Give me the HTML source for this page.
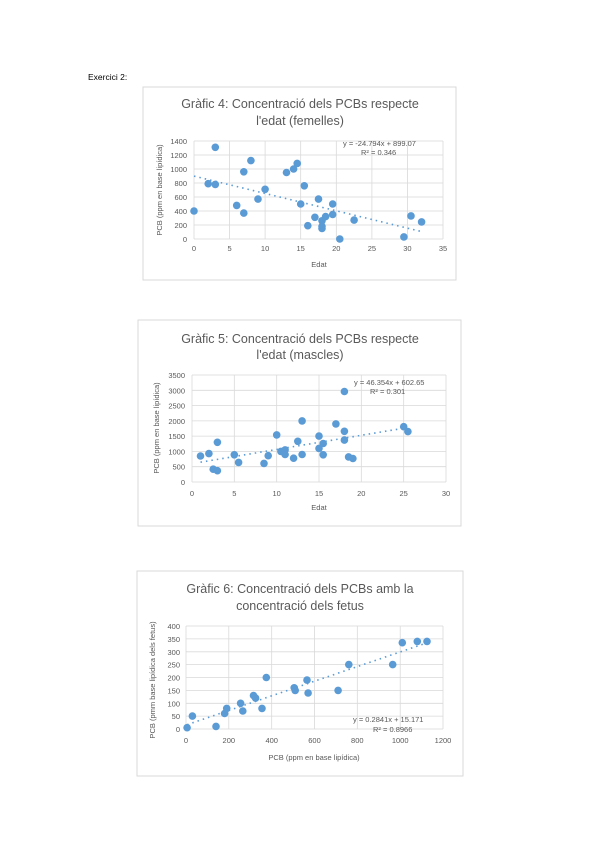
<!DOCTYPE html>
<html><head><meta charset="utf-8"><style>
html,body{margin:0;padding:0;background:#fff}
svg{display:block}
text{font-family:"Liberation Sans",sans-serif;fill:#595959}
.t{font-size:12.5px;text-anchor:middle}
.k{font-size:7.5px}
.ky{font-size:7.5px;text-anchor:end}
.kx{font-size:7.5px;text-anchor:middle}
.ax{font-size:7.5px;text-anchor:middle}
.g{stroke:#d9d9d9;stroke-width:.8}
.tr{stroke:#5b9bd5;stroke-width:1.6;stroke-dasharray:1.5 4;fill:none}
circle{fill:#5b9bd5}
.fr{fill:#fff;stroke:#d9d9d9;stroke-width:1}
</style></head><body>
<svg width="600" height="848" viewBox="0 0 600 848">
<text x="88" y="80" style="font-size:8.5px;fill:#000">Exercici 2:</text>

<!-- Chart 4 -->
<rect class="fr" x="143" y="87" width="313" height="193"/>
<text class="t" x="300" y="108">Gràfic 4: Concentració dels PCBs respecte</text>
<text class="t" x="300" y="125">l'edat (femelles)</text>
<g class="g">
<line x1="194" y1="141" x2="443" y2="141"/><line x1="194" y1="155" x2="443" y2="155"/><line x1="194" y1="169" x2="443" y2="169"/><line x1="194" y1="183" x2="443" y2="183"/><line x1="194" y1="197" x2="443" y2="197"/><line x1="194" y1="211" x2="443" y2="211"/><line x1="194" y1="225" x2="443" y2="225"/><line x1="194" y1="239" x2="443" y2="239"/>
<line x1="194" y1="141" x2="194" y2="239"/><line x1="229.6" y1="141" x2="229.6" y2="239"/><line x1="265.1" y1="141" x2="265.1" y2="239"/><line x1="300.7" y1="141" x2="300.7" y2="239"/><line x1="336.3" y1="141" x2="336.3" y2="239"/><line x1="371.9" y1="141" x2="371.9" y2="239"/><line x1="407.4" y1="141" x2="407.4" y2="239"/><line x1="443" y1="141" x2="443" y2="239"/>
</g>
<g>
<text class="ky" x="187" y="144">1400</text><text class="ky" x="187" y="158">1200</text><text class="ky" x="187" y="172">1000</text><text class="ky" x="187" y="186">800</text><text class="ky" x="187" y="200">600</text><text class="ky" x="187" y="214">400</text><text class="ky" x="187" y="228">200</text><text class="ky" x="187" y="242">0</text>
<text class="kx" x="194" y="251">0</text><text class="kx" x="229.6" y="251">5</text><text class="kx" x="265.1" y="251">10</text><text class="kx" x="300.7" y="251">15</text><text class="kx" x="336.3" y="251">20</text><text class="kx" x="371.9" y="251">25</text><text class="kx" x="407.4" y="251">30</text><text class="kx" x="443" y="251">35</text>
</g>
<text class="ax" x="319" y="267">Edat</text>
<text class="ax" transform="translate(162,190) rotate(-90)">PCB (ppm en base lipídica)</text>
<line class="tr" x1="194" y1="176.1" x2="421.6" y2="231.6"/>
<g>
<circle cx="194" cy="211" r="3.8"/><circle cx="208.2" cy="183.7" r="3.8"/><circle cx="215.3" cy="147.3" r="3.8"/><circle cx="215.3" cy="184.4" r="3.8"/><circle cx="236.7" cy="205.4" r="3.8"/><circle cx="243.8" cy="171.8" r="3.8"/><circle cx="243.8" cy="213.1" r="3.8"/><circle cx="250.9" cy="160.6" r="3.8"/><circle cx="258" cy="199.1" r="3.8"/><circle cx="265.1" cy="189.3" r="3.8"/><circle cx="286.5" cy="172.5" r="3.8"/><circle cx="293.6" cy="169" r="3.8"/><circle cx="297.2" cy="163.4" r="3.8"/><circle cx="300.7" cy="204" r="3.8"/><circle cx="304.3" cy="185.8" r="3.8"/><circle cx="307.8" cy="225.7" r="3.8"/><circle cx="314.9" cy="217.3" r="3.8"/><circle cx="318.5" cy="199.1" r="3.8"/><circle cx="322" cy="220.8" r="3.8"/><circle cx="322" cy="226.4" r="3.8"/><circle cx="322" cy="228.5" r="3.8"/><circle cx="325.6" cy="216.6" r="3.8"/><circle cx="332.7" cy="204" r="3.8"/><circle cx="332.7" cy="214.5" r="3.8"/><circle cx="339.8" cy="239" r="3.8"/><circle cx="354.1" cy="220.1" r="3.8"/><circle cx="403.9" cy="236.9" r="3.8"/><circle cx="411" cy="215.9" r="3.8"/><circle cx="421.6" cy="221.9" r="3.8"/>
</g>
<text class="k" x="343" y="146">y = -24.794x + 899.07</text>
<text class="k" x="361" y="155">R² = 0.346</text>

<!-- Chart 5 -->
<rect class="fr" x="138" y="320" width="323" height="206"/>
<text class="t" x="300" y="343">Gràfic 5: Concentració dels PCBs respecte</text>
<text class="t" x="300" y="359">l'edat (mascles)</text>
<g class="g">
<line x1="192" y1="375" x2="446" y2="375"/><line x1="192" y1="390.3" x2="446" y2="390.3"/><line x1="192" y1="405.6" x2="446" y2="405.6"/><line x1="192" y1="420.9" x2="446" y2="420.9"/><line x1="192" y1="436.1" x2="446" y2="436.1"/><line x1="192" y1="451.4" x2="446" y2="451.4"/><line x1="192" y1="466.7" x2="446" y2="466.7"/><line x1="192" y1="482" x2="446" y2="482"/>
<line x1="192" y1="375" x2="192" y2="482"/><line x1="234.3" y1="375" x2="234.3" y2="482"/><line x1="276.7" y1="375" x2="276.7" y2="482"/><line x1="319" y1="375" x2="319" y2="482"/><line x1="361.3" y1="375" x2="361.3" y2="482"/><line x1="403.7" y1="375" x2="403.7" y2="482"/><line x1="446" y1="375" x2="446" y2="482"/>
</g>
<g>
<text class="ky" x="185" y="378">3500</text><text class="ky" x="185" y="393.3">3000</text><text class="ky" x="185" y="408.6">2500</text><text class="ky" x="185" y="423.9">2000</text><text class="ky" x="185" y="439.1">1500</text><text class="ky" x="185" y="454.4">1000</text><text class="ky" x="185" y="469.7">500</text><text class="ky" x="185" y="485">0</text>
<text class="kx" x="192" y="496">0</text><text class="kx" x="234.3" y="496">5</text><text class="kx" x="276.7" y="496">10</text><text class="kx" x="319" y="496">15</text><text class="kx" x="361.3" y="496">20</text><text class="kx" x="403.7" y="496">25</text><text class="kx" x="446" y="496">30</text>
</g>
<text class="ax" x="319" y="510">Edat</text>
<text class="ax" transform="translate(159,428) rotate(-90)">PCB (ppm en base lipídica)</text>
<line class="tr" x1="200.5" y1="462.2" x2="403.7" y2="428.2"/>
<g>
<circle cx="200.5" cy="456" r="3.8"/><circle cx="208.9" cy="453.6" r="3.8"/><circle cx="213.2" cy="469.2" r="3.8"/><circle cx="217.4" cy="442.3" r="3.8"/><circle cx="217.4" cy="470.7" r="3.8"/><circle cx="234.3" cy="454.8" r="3.8"/><circle cx="238.6" cy="462.4" r="3.8"/><circle cx="264" cy="463.4" r="3.8"/><circle cx="268.2" cy="455.7" r="3.8"/><circle cx="276.7" cy="434.9" r="3.8"/><circle cx="280.9" cy="451.4" r="3.8"/><circle cx="285.1" cy="449.9" r="3.8"/><circle cx="285.1" cy="454.5" r="3.8"/><circle cx="293.6" cy="458.2" r="3.8"/><circle cx="297.8" cy="441.3" r="3.8"/><circle cx="302.1" cy="420.9" r="3.8"/><circle cx="302.1" cy="454.5" r="3.8"/><circle cx="319" cy="436.1" r="3.8"/><circle cx="319" cy="448.4" r="3.8"/><circle cx="323.2" cy="443.5" r="3.8"/><circle cx="323.2" cy="454.8" r="3.8"/><circle cx="335.9" cy="423.9" r="3.8"/><circle cx="344.4" cy="391.5" r="3.8"/><circle cx="344.4" cy="431.3" r="3.8"/><circle cx="344.4" cy="440.1" r="3.8"/><circle cx="348.6" cy="456.9" r="3.8"/><circle cx="352.9" cy="458.5" r="3.8"/><circle cx="403.7" cy="426.7" r="3.8"/><circle cx="407.9" cy="431.6" r="3.8"/>
</g>
<text class="k" x="354" y="385">y = 46.354x + 602.65</text>
<text class="k" x="370" y="394">R² = 0.301</text>

<!-- Chart 6 -->
<rect class="fr" x="137" y="571" width="326" height="205"/>
<text class="t" x="300" y="593">Gràfic 6: Concentració dels PCBs amb la</text>
<text class="t" x="300" y="610">concentració dels fetus</text>
<g class="g">
<line x1="186" y1="626" x2="443" y2="626"/><line x1="186" y1="638.9" x2="443" y2="638.9"/><line x1="186" y1="651.8" x2="443" y2="651.8"/><line x1="186" y1="664.6" x2="443" y2="664.6"/><line x1="186" y1="677.5" x2="443" y2="677.5"/><line x1="186" y1="690.4" x2="443" y2="690.4"/><line x1="186" y1="703.3" x2="443" y2="703.3"/><line x1="186" y1="716.1" x2="443" y2="716.1"/><line x1="186" y1="729" x2="443" y2="729"/>
<line x1="186" y1="626" x2="186" y2="729"/><line x1="228.8" y1="626" x2="228.8" y2="729"/><line x1="271.7" y1="626" x2="271.7" y2="729"/><line x1="314.5" y1="626" x2="314.5" y2="729"/><line x1="357.3" y1="626" x2="357.3" y2="729"/><line x1="400.2" y1="626" x2="400.2" y2="729"/><line x1="443" y1="626" x2="443" y2="729"/>
</g>
<g>
<text class="ky" x="180" y="629">400</text><text class="ky" x="180" y="641.9">350</text><text class="ky" x="180" y="654.8">300</text><text class="ky" x="180" y="667.6">250</text><text class="ky" x="180" y="680.5">200</text><text class="ky" x="180" y="693.4">150</text><text class="ky" x="180" y="706.3">100</text><text class="ky" x="180" y="719.1">50</text><text class="ky" x="180" y="732">0</text>
<text class="kx" x="186" y="743">0</text><text class="kx" x="228.8" y="743">200</text><text class="kx" x="271.7" y="743">400</text><text class="kx" x="314.5" y="743">600</text><text class="kx" x="357.3" y="743">800</text><text class="kx" x="400.2" y="743">1000</text><text class="kx" x="443" y="743">1200</text>
</g>
<text class="ax" x="314" y="760">PCB (ppm en base lipídica)</text>
<text class="ax" transform="translate(155,680) rotate(-90)">PCB (pmm base lipídica dels fetus)</text>
<line class="tr" x1="187.1" y1="724.7" x2="427" y2="642.8"/>
<g>
<circle cx="187.1" cy="727.7" r="3.8"/><circle cx="192.4" cy="716.1" r="3.8"/><circle cx="216" cy="726.4" r="3.8"/><circle cx="224.6" cy="713.5" r="3.8"/><circle cx="226.7" cy="708.4" r="3.8"/><circle cx="240.6" cy="703.3" r="3.8"/><circle cx="242.8" cy="711" r="3.8"/><circle cx="253.5" cy="695.5" r="3.8"/><circle cx="255.6" cy="698.1" r="3.8"/><circle cx="262" cy="708.4" r="3.8"/><circle cx="266.3" cy="677.5" r="3.8"/><circle cx="294.2" cy="687.8" r="3.8"/><circle cx="295.2" cy="690.4" r="3.8"/><circle cx="307" cy="680.1" r="3.8"/><circle cx="308.1" cy="693" r="3.8"/><circle cx="338.1" cy="690.4" r="3.8"/><circle cx="348.8" cy="664.6" r="3.8"/><circle cx="392.7" cy="664.6" r="3.8"/><circle cx="402.3" cy="642.7" r="3.8"/><circle cx="417.3" cy="641.4" r="3.8"/><circle cx="427" cy="641.4" r="3.8"/>
</g>
<text class="k" x="353" y="722">y = 0.2841x + 15.171</text>
<text class="k" x="373" y="732">R² = 0.8966</text>
</svg>
</body></html>
